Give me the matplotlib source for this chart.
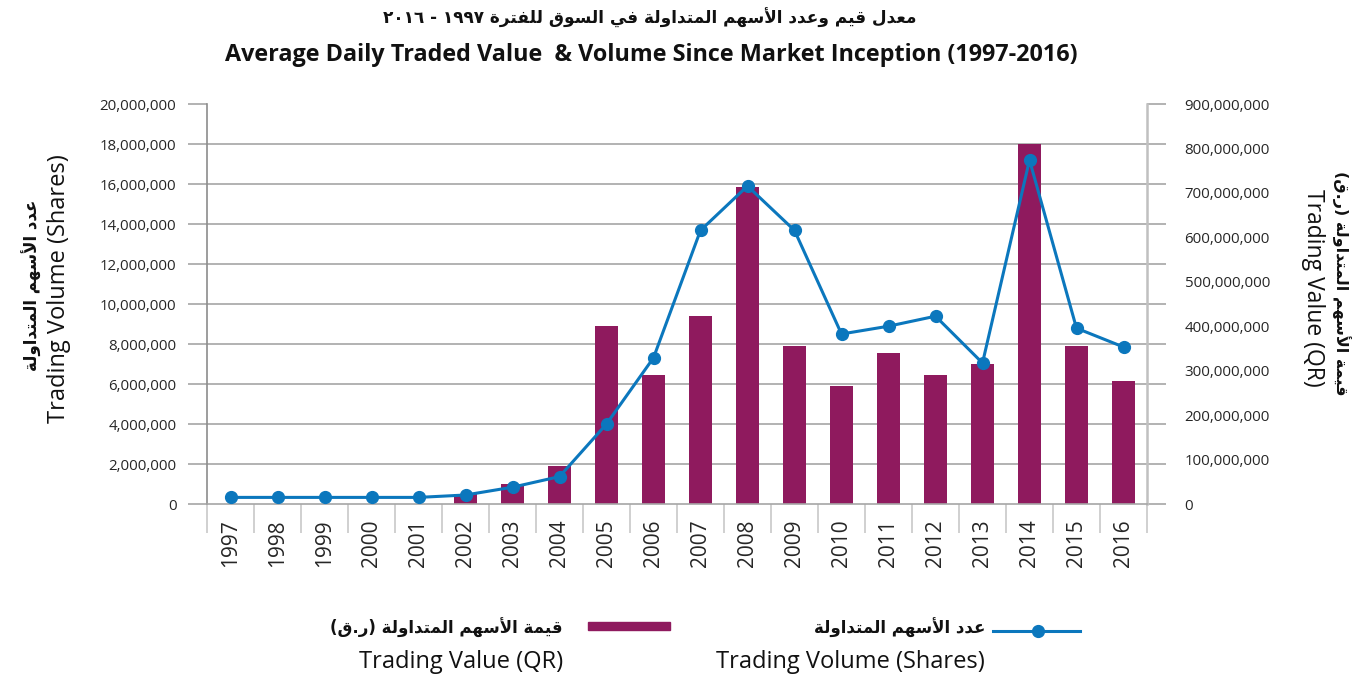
import re
import numpy as np
import matplotlib
matplotlib.use("Agg")
import matplotlib.pyplot as plt
from matplotlib.patches import Rectangle
from matplotlib.lines import Line2D

# --- dati ---
anni = ["1997", "1998", "1999", "2000", "2001", "2002", "2003", "2004", "2005", "2006",
        "2007", "2008", "2009", "2010", "2011", "2012", "2013", "2014", "2015", "2016"]
# Trading Value (QR) - barre, asse destro
valore_qr = [0, 0, 0, 0, 0, 22e6, 45e6, 85e6, 400e6, 290e6,
             423e6, 714e6, 356e6, 266e6, 340e6, 290e6, 315e6, 810e6, 356e6, 277e6]
# Trading Volume (Shares) - linea, asse sinistro
volume_azioni = [0.33e6, 0.33e6, 0.33e6, 0.33e6, 0.33e6, 0.45e6, 0.84e6, 1.37e6, 4.0e6, 7.31e6,
                 13.68e6, 15.9e6, 13.68e6, 8.5e6, 8.89e6, 9.39e6, 7.05e6, 17.2e6, 8.79e6, 7.85e6]
tick_sx = np.arange(0, 20e6 + 1, 2e6)
tick_dx = np.arange(0, 900e6 + 1, 100e6)

titolo_ar = "معدل قيم وعدد الأسهم المتداولة في السوق للفترة ١٩٩٧ - ٢٠١٦"
titolo_en = "Average Daily Traded Value  & Volume Since Market Inception (1997-2016)"
label_vol_ar = "عدد الأسهم المتداولة"
label_vol_en = "Trading Volume (Shares)"
label_val_ar = "قيمة الأسهم المتداولة (ر.ق)"
label_val_en = "Trading Value (QR)"

COL_BAR = "#8F1A5E"
COL_LINE = "#0B77BD"
COL_GRID = "#A6A6A6"

# --- shaping arabo minimale (matplotlib non unisce le lettere) ---
FORME = {
    "\u0627": ("\uFE8D", "\uFE8E", None, None),
    "\u0623": ("\uFE83", "\uFE84", None, None),
    "\u0629": ("\uFE93", "\uFE94", None, None),
    "\u062A": ("\uFE95", "\uFE96", "\uFE97", "\uFE98"),
    "\u062F": ("\uFEA9", "\uFEAA", None, None),
    "\u0631": ("\uFEAD", "\uFEAE", None, None),
    "\u0633": ("\uFEB1", "\uFEB2", "\uFEB3", "\uFEB4"),
    "\u0639": ("\uFEC9", "\uFECA", "\uFECB", "\uFECC"),
    "\u0641": ("\uFED1", "\uFED2", "\uFED3", "\uFED4"),
    "\u0642": ("\uFED5", "\uFED6", "\uFED7", "\uFED8"),
    "\u0644": ("\uFEDD", "\uFEDE", "\uFEDF", "\uFEE0"),
    "\u0645": ("\uFEE1", "\uFEE2", "\uFEE3", "\uFEE4"),
    "\u0647": ("\uFEE9", "\uFEEA", "\uFEEB", "\uFEEC"),
    "\u0648": ("\uFEED", "\uFEEE", None, None),
    "\u064A": ("\uFEF1", "\uFEF2", "\uFEF3", "\uFEF4"),
}
LAM_ALEF = {"\u0627": ("\uFEFB", "\uFEFC"), "\u0623": ("\uFEF7", "\uFEF8")}


def shape(testo):
    res = []
    i = 0
    n = len(testo)
    while i < n:
        c = testo[i]
        if c not in FORME:
            res.append(c)
            i += 1
            continue
        prev = testo[i - 1] if i > 0 else ""
        join_prev = prev in FORME and FORME[prev][2] is not None
        if c == "\u0644" and i + 1 < n and testo[i + 1] in LAM_ALEF:
            res.append(LAM_ALEF[testo[i + 1]][1 if join_prev else 0])
            i += 2
            continue
        nxt = testo[i + 1] if i + 1 < n else ""
        join_next = FORME[c][2] is not None and nxt in FORME
        iso, fin, ini, med = FORME[c]
        if join_prev and join_next:
            res.append(med)
        elif join_prev:
            res.append(fin)
        elif join_next:
            res.append(ini)
        else:
            res.append(iso)
        i += 1
    return "".join(res)


def ar(testo):
    s = shape(testo)
    pezzi = re.findall(r"[0-9\u0660-\u0669]+|.", s)
    specchio = {"(": ")", ")": "("}
    return "".join(specchio.get(p, p) for p in reversed(pezzi))


plt.rcParams["font.family"] = ["Open Sans", "DejaVu Sans"]
FONT_AR = ["DejaVu Sans"]

W, H = 1355, 681


def fx(px):
    return px / W


def fy(py):
    return 1 - py / H


fig = plt.figure(figsize=(W / 100, H / 100), dpi=100)
ax = fig.add_axes([fx(207), fy(504), (1147 - 207) / W, 400 / H])
ax2 = ax.twinx()
# la linea sopra le barre
ax2.set_zorder(1)
ax.set_zorder(2)
ax.patch.set_visible(False)

x = np.arange(len(anni))

# barre (asse destro)
ax2.bar(x, valore_qr, width=0.47, color=COL_BAR, zorder=2)
ax2.set_ylim(0, 900e6)
ax2.set_yticks(tick_dx)
ax2.set_yticklabels([f"{int(v):,}" for v in tick_dx], fontsize=10.8, color="#262626")
ax2.tick_params(axis="y", which="major", length=0, pad=27)
# griglia allineata ai tick di sinistra
ax2.set_yticks(tick_sx * 900e6 / 20e6, minor=True)
ax2.tick_params(axis="y", which="minor", length=0)
ax2.grid(axis="y", which="minor", color=COL_GRID, linewidth=1.2, zorder=0)
ax2.set_axisbelow(True)
for s in ax2.spines.values():
    s.set_visible(False)

# linea (asse sinistro)
ax.plot(x, volume_azioni, color=COL_LINE, linewidth=2.2, marker="o", markersize=8.5, zorder=3)
ax.set_ylim(0, 20e6)
ax.set_xlim(-0.5, len(anni) - 0.5)
ax.set_yticks(tick_sx)
ax.set_yticklabels([f"{int(v):,}" for v in tick_sx], fontsize=10.8, color="#262626")
ax.tick_params(axis="y", which="major", direction="out", length=14, width=1.2,
               color=COL_GRID, pad=8, right=True, labelright=False)
ax.set_xticks(x)
ax.set_xticklabels(anni, rotation=90, fontsize=15, color="#262626")
ax.tick_params(axis="x", which="major", length=0, pad=11)
ax.set_xticks(np.arange(-0.5, len(anni), 1), minor=True)
ax.tick_params(axis="x", which="minor", direction="out", length=21, width=1.2, color="#C8C8C8")
ax.spines["top"].set_visible(False)
ax.spines["left"].set_color("#8C8C8C")
ax.spines["left"].set_linewidth(1.2)
ax.spines["right"].set_color("#C0C0C0")
ax.spines["right"].set_linewidth(1.8)
ax.spines["bottom"].set_color(COL_GRID)
ax.spines["bottom"].set_linewidth(1.2)

# titoli
fig.text(fx(650), fy(18), ar(titolo_ar), family=FONT_AR, fontweight="bold",
         fontsize=12.2, ha="center", va="center", color="#111111")
fig.text(fx(651), fy(55), titolo_en, fontweight="bold", fontsize=16.8,
         ha="center", va="center", color="#111111")

# etichette assi
fig.text(fx(32), fy(285), ar(label_vol_ar), family=FONT_AR, fontweight="bold",
         fontsize=12, rotation=90, ha="center", va="center", color="#111111")
fig.text(fx(59), fy(289), label_vol_en, fontsize=17, rotation=90,
         ha="center", va="center", color="#111111")
fig.text(fx(1341), fy(283), ar(label_val_ar), family=FONT_AR, fontweight="bold",
         fontsize=11.5, rotation=-90, ha="center", va="center", color="#111111")
fig.text(fx(1313), fy(288), label_val_en, fontsize=16.5, rotation=-90,
         ha="center", va="center", color="#111111")

# legenda
fig.add_artist(Rectangle((fx(588), fy(630)), (670 - 588) / W, 8 / H,
                         transform=fig.transFigure, color=COL_BAR))
fig.text(fx(563), fy(628), ar(label_val_ar), family=FONT_AR, fontweight="bold",
         fontsize=12, ha="right", va="center", color="#111111")
fig.text(fx(563), fy(662), label_val_en, fontsize=17, ha="right", va="center", color="#111111")

fig.add_artist(Line2D([fx(993), fx(1080)], [fy(631), fy(631)], transform=fig.transFigure,
                      color=COL_LINE, linewidth=2.2))
fig.add_artist(Line2D([fx(1038)], [fy(631)], transform=fig.transFigure, color=COL_LINE,
                      marker="o", markersize=8.5, linestyle="none"))
fig.text(fx(985), fy(628), ar(label_vol_ar), family=FONT_AR, fontweight="bold",
         fontsize=12, ha="right", va="center", color="#111111")
fig.text(fx(985), fy(662), label_vol_en, fontsize=17, ha="right", va="center", color="#111111")

fig.savefig("out.png", dpi=100)
